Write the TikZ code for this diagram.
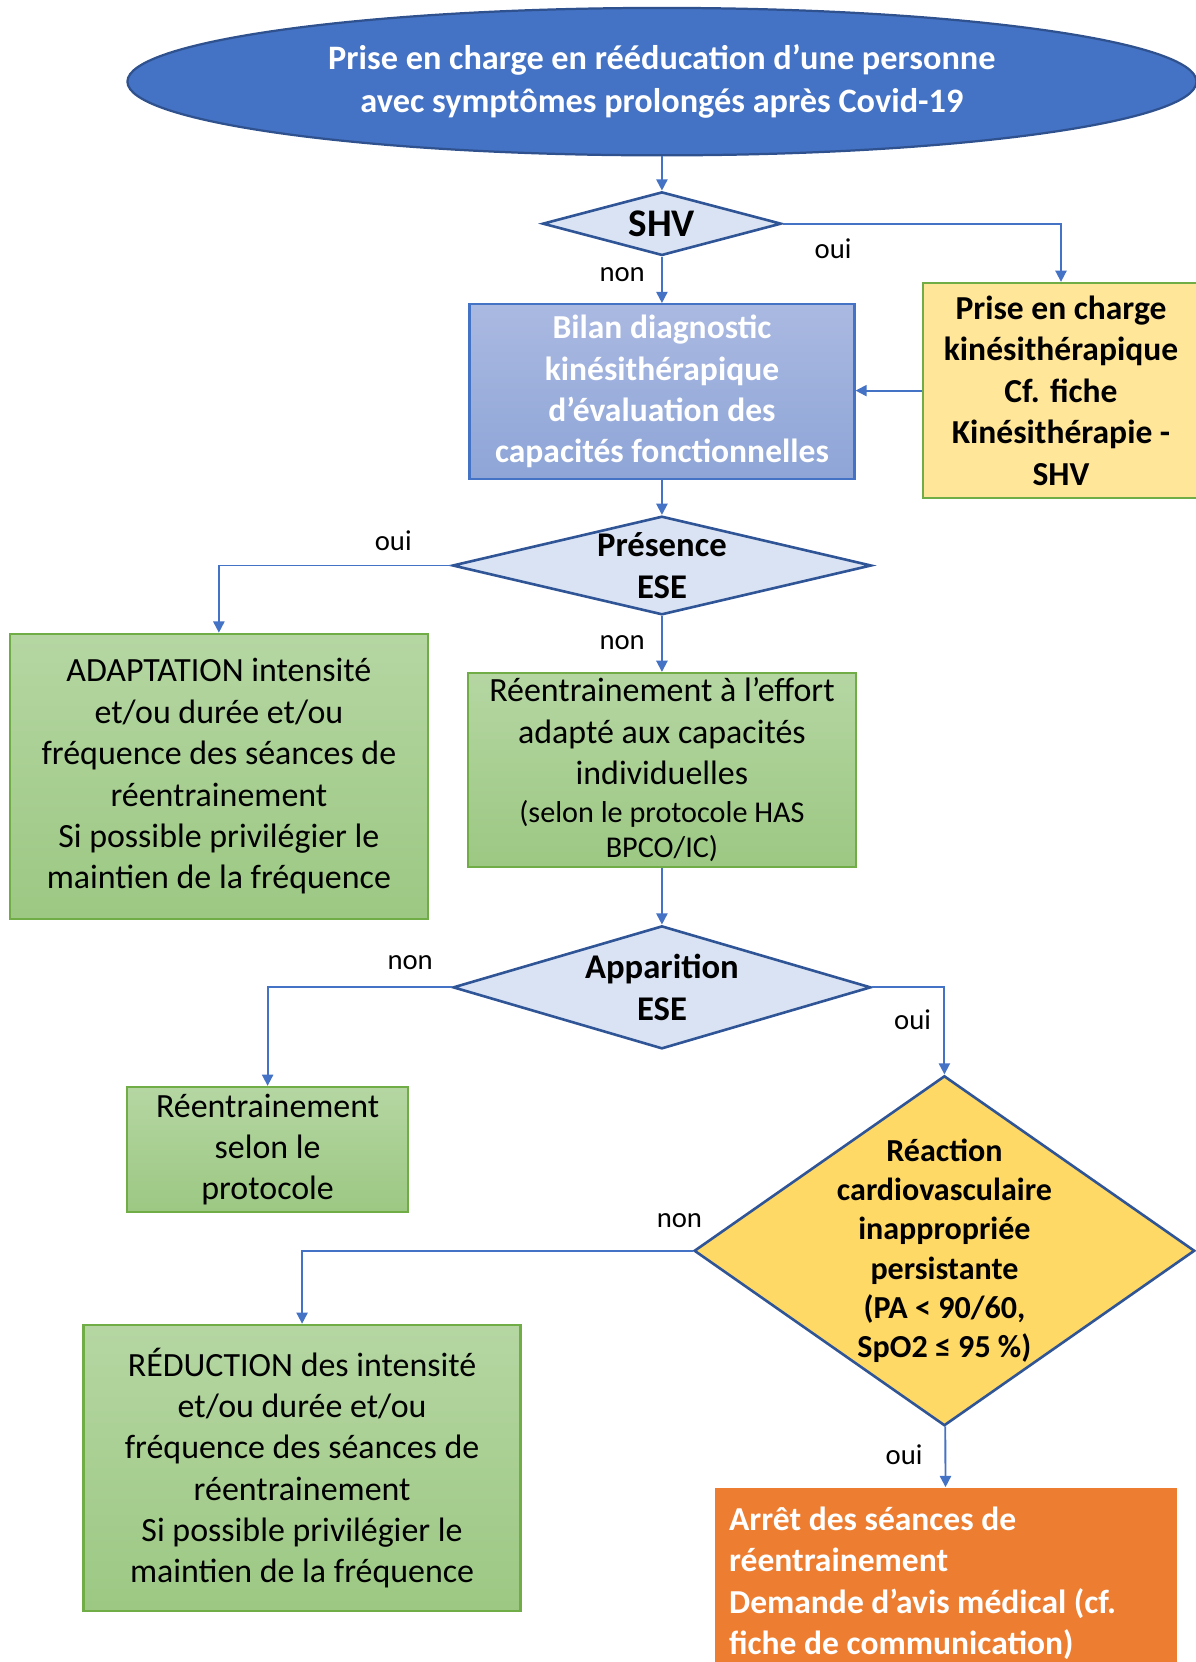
\documentclass[tikz,border=0pt]{standalone}
\usepackage{fontspec}
\setmainfont{Carlito}
\usetikzlibrary{positioning,shapes.geometric,arrows.meta}

\definecolor{titleblue}{HTML}{4472C4}
\definecolor{titleedge}{HTML}{2F528F}
\definecolor{decfill}{HTML}{DAE3F3}
\definecolor{decedge}{HTML}{2F5597}
\definecolor{bilantop}{HTML}{AAB9E1}
\definecolor{bilanbot}{HTML}{8EA5D7}
\definecolor{greentop}{HTML}{B5D6A2}
\definecolor{greenbot}{HTML}{9CC883}
\definecolor{greenedge}{HTML}{70AD47}
\definecolor{yelfill}{HTML}{FFE699}
\definecolor{reacfill}{HTML}{FFD966}
\definecolor{haltorange}{HTML}{ED7D31}

\begin{document}
\begin{tikzpicture}[
    x=0.01cm, y=-0.01cm,
    >={Triangle[length=3pt,width=3pt]},
    term/.style = {ellipse, draw=titleedge, line width=0.6pt, fill=titleblue, text=white, font=\bfseries\fontsize{9.2}{11.4}\selectfont, align=center, minimum width=10.08cm, minimum height=1.39cm},
    dec/.style = {diamond, draw=decedge, line width=0.7pt, fill=decfill, inner sep=0pt},
    dectxt/.style = {font=\bfseries\fontsize{9.3}{11.1}\selectfont, align=center},
    bilan/.style = {rectangle, draw=titleblue, line width=0.6pt, inner ysep=0pt, top color=bilantop, bottom color=bilanbot, text=white, font=\bfseries\fontsize{9}{11.1}\selectfont, align=center},
    act/.style = {rectangle, draw=greenedge, line width=0.6pt, inner ysep=0pt, top color=greentop, bottom color=greenbot, font=\fontsize{9.1}{11.1}\selectfont, align=center},
    note/.style = {rectangle, draw=greenedge, line width=0.6pt, inner ysep=0pt, fill=yelfill, font=\bfseries\fontsize{9}{11.1}\selectfont, align=center},
    halt/.style = {rectangle, fill=haltorange, text=white, font=\bfseries\fontsize{9}{11.1}\selectfont, align=flush left},
    lbl/.style = {font=\fontsize{7.7}{9}\selectfont, inner sep=0pt},
    link/.style = {draw=titleblue, line width=0.5pt}
]
\useasboundingbox (0,0) rectangle (1127.5,1568);

% main column
\node[term] (prise) at (624.5,77) {Prise en charge en rééducation d’une personne\\avec symptômes prolongés après Covid-19};
\node[dec, minimum width=2.25cm, minimum height=0.6cm,
    label={[dectxt, font=\bfseries\fontsize{10.5}{12}\selectfont]center:SHV}] (shv) at (624.5,211) {};
\node[bilan, minimum width=3.63cm, minimum height=1.65cm] (bilan) at (624.5,369.5)
    {Bilan diagnostic\\kinésithérapique\\d’évaluation des\\capacités fonctionnelles};
\node[dec, minimum width=3.95cm, minimum height=0.93cm,
    label={[dectxt]center:{Présence\\ESE}}] (pres) at (624.5,533.5) {};
\node[act, minimum width=3.66cm, minimum height=1.83cm] (reent) at (624.5,726.5)
    {Réentrainement à l’effort\\adapté aux capacités\\individuelles\\[-0.03cm]{\fontsize{8.1}{9}\selectfont (selon le protocole HAS}\\[-0.06cm]{\fontsize{8.1}{9}\selectfont BPCO/IC)}};
\node[dec, minimum width=3.94cm, minimum height=1.16cm,
    label={[dectxt]center:{Apparition\\ESE}}] (app) at (624.5,931.5) {};

% side boxes
\node[note, minimum width=2.6cm, minimum height=2.03cm] (note) at (1001,368.5)
    {Prise en charge\\kinésithérapique\\Cf. fiche\\Kinésithérapie -\\SHV};
\node[act, minimum width=3.94cm, minimum height=2.69cm] (adapt) at (206.5,732.5)
    {ADAPTATION intensité\\et/ou durée et/ou\\fréquence des séances de\\réentrainement\\Si possible privilégier le\\maintien de la fréquence};
\node[act, minimum width=2.65cm, minimum height=1.18cm] (prot) at (252.5,1084.5)
    {Réentrainement\\selon le\\protocole};
\node[dec, fill=reacfill, minimum width=4.72cm, minimum height=3.3cm,
    label={[dectxt, font=\bfseries\fontsize{8.6}{10.5}\selectfont]center:{Réaction\\cardiovasculaire\\inappropriée\\persistante\\(PA < 90/60,\\SpO2 ≤ 95 \%)}}] (reac) at (891,1180) {};
\node[act, minimum width=4.12cm, minimum height=2.7cm] (reduc) at (285,1385)
    {RÉDUCTION des intensité\\et/ou durée et/ou\\fréquence des séances de\\réentrainement\\Si possible privilégier le\\maintien de la fréquence};
\node[halt, anchor=north, minimum width=4.35cm, minimum height=1.8cm, inner xsep=0.13cm, text width=4.09cm] (stopbox) at (892.5,1403)
    {Arrêt des séances de\\réentrainement\\Demande d’avis médical (cf.\\fiche de communication)};

% answers
\node[lbl] (oui1) at (786,235) {oui};
\node[lbl] (non1) at (587,259) {non};
\node[lbl] (oui2) at (371,510) {oui};
\node[lbl] (non2) at (587,606) {non};
\node[lbl] (non3) at (387,908) {non};
\node[lbl] (oui3) at (861,962) {oui};
\node[lbl] (non4) at (641,1152) {non};
\node[lbl] (oui4) at (853,1372) {oui};

\draw[->, link] (prise) -- (shv);
\draw[->, link] (shv) -- (bilan);
\draw[->, link] (shv.east) -| (note.north);
\draw[->, link] (note.west) -- (note.west -| bilan.east);
\draw[->, link] (bilan) -- (pres);
\draw[->, link] (pres.west) -| (adapt.north);
\draw[->, link] (pres) -- (reent);
\draw[->, link] (reent) -- (app);
\draw[->, link] (app.west) -| (prot.north);
\draw[->, link] (app.east) -| (reac.north);
\draw[->, link] (reac.west) -| (reduc.north);
\draw[->, link] (reac) -- (stopbox);

\end{tikzpicture}
\end{document}
